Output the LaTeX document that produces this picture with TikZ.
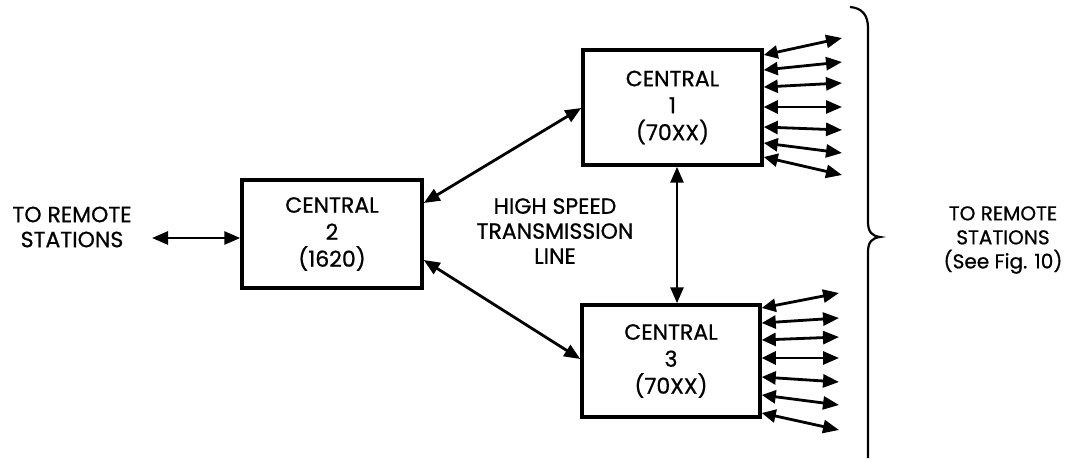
\documentclass[tikz,border=0pt]{standalone}
\usepackage{fontspec}
\setmainfont{Poppins}
\usetikzlibrary{arrows.meta}
\begin{document}
\begin{tikzpicture}[x=1pt,y=-1pt,
  box/.style={draw,line width=3.5pt,minimum width=#1,inner sep=0pt,align=center,font=\fontsize{22}{27}\selectfont\addfontfeatures{FakeBold=0.8}},
  lbl/.style={align=center,font=\fontsize{22}{25}\selectfont\addfontfeatures{FakeBold=0.8}},
  lbls/.style={align=center,font=\fontsize{20}{24}\selectfont\addfontfeatures{FakeBold=0.8}},
  link/.style={line width=2.8pt,{Triangle[length=16pt,width=13pt]}-{Triangle[length=16pt,width=13pt]}},
  fan/.style={line width=2.8pt,{Triangle[length=14pt,width=13pt]}-{Triangle[length=16pt,width=13pt]}}]
\useasboundingbox (0,0) rectangle (1065,465);
\node[box=179pt,minimum height=115pt] (c1) at (672.5,107.5) {CENTRAL\\1\\(70XX)};
\node[box=178pt,minimum height=112pt] (c3) at (671,361) {CENTRAL\\3\\(70XX)};
\node[box=180pt,minimum height=108pt] (c2) at (332,234) {CENTRAL\\2\\(1620)};
\node[lbl] (lt) at (72,227) {TO REMOTE\\STATIONS};
\node[lbl] (hs) at (555,231) {HIGH SPEED\\TRANSMISSION\\LINE};
\node[lbls] (rt) at (1003,240) {TO REMOTE\\STATIONS\\(See Fig. 10)};
\coordinate (la) at (152,238);
\draw[link] (la) -- (c2.west |- la);
\coordinate (u1) at (c2.east |- 0,203);
\coordinate (u2) at (c1.west |- 0,108);
\draw[link] (u1) -- (u2);
\coordinate (d1) at (c2.east |- 0,260);
\coordinate (d2) at (c3.west |- 0,359);
\draw[link] (d1) -- (d2);
\draw[link] (c1.south -| 677,0) -- (c3.north -| 677,0);
\foreach \s/\t [count=\i] in {55/38,70/62,87/83,107/107,127/130,143/153,157/175}{
  \coordinate (ua\i) at (c1.east |- 0,\s);
  \coordinate (ub\i) at (842,\t);
  \draw[fan] (ua\i) -- (ub\i);
}
\foreach \s/\t [count=\i] in {308/293,323/318,340/337,358/358,377/382,395/405,413/430}{
  \coordinate (la\i) at (c3.east |- 0,\s);
  \coordinate (lb\i) at (839,\t);
  \draw[fan] (la\i) -- (lb\i);
}
\draw[line width=2.2pt] (850,7) .. controls (862,8) and (868,15) .. (868,28) -- (868,222)
  .. controls (868,232) and (872,236) .. (880,237)
  .. controls (872,238) and (868,242) .. (868,252) -- (868,458);
\end{tikzpicture}
\end{document}
